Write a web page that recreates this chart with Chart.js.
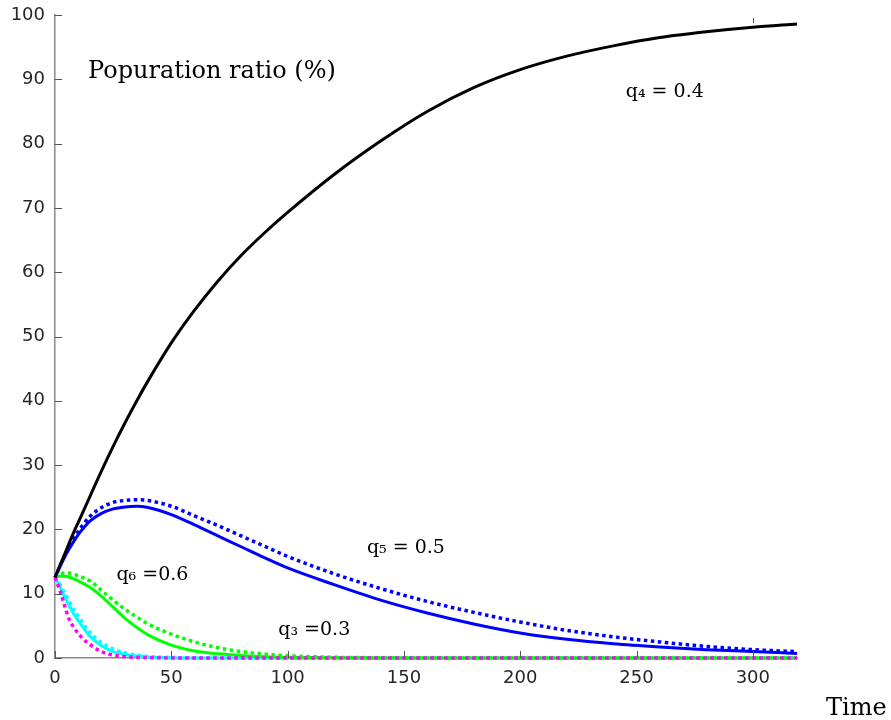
<!DOCTYPE html>
<html>
<head>
<meta charset="utf-8">
<script src="https://cdn.jsdelivr.net/npm/chart.js@4.4.1/dist/chart.umd.min.js"></script>
<style>
html, body { margin: 0; padding: 0; background: #fff; }
</style>
</head>
<body>
<canvas id="ratio" width="891" height="720"></canvas>
<script>
// time steps shared by all curves
var timeGrid = [0, 2, 4, 6, 8, 10, 12, 15, 20, 25, 30, 35, 40, 50, 60, 70, 80, 90, 100,
    120, 140, 160, 180, 200, 220, 240, 260, 280, 300, 319];

// population ratio (%)
var q4Solid = [12.5, 14.3, 16.0, 17.8, 19.5, 21.1, 22.7, 25.1, 29.1, 32.9, 36.5, 39.9, 43.1, 49.0, 54.1, 58.6, 62.6, 66.1, 69.3,
    75.2, 80.4, 85.0, 88.7, 91.5, 93.6, 95.2, 96.5, 97.4, 98.1, 98.6];
var q5Solid = [12.5, 14.1, 15.6, 16.9, 18.1, 19.2, 20.1, 21.3, 22.5, 23.2, 23.5, 23.6, 23.4, 22.3, 20.7, 19.0, 17.3, 15.6, 14.0,
    11.4, 9.0, 7.0, 5.3, 3.9, 2.9, 2.2, 1.7, 1.3, 1.0, 0.7];
var q5Dotted = [12.5, 14.2, 15.8, 17.2, 18.5, 19.7, 20.7, 22.0, 23.4, 24.2, 24.5, 24.6, 24.5, 23.6, 22.1, 20.6, 19.0, 17.4, 15.8,
    13.1, 10.8, 8.8, 7.1, 5.6, 4.3, 3.3, 2.5, 1.8, 1.3, 1.0];
var q6Solid = [12.5, 12.7, 12.7, 12.6, 12.3, 12.0, 11.6, 11.0, 9.6, 7.9, 6.2, 4.8, 3.6, 2.0, 1.1, 0.65, 0.4, 0.2, 0.1,
    0.03, 0, 0, 0, 0, 0, 0, 0, 0, 0, 0];
var q6Dotted = [12.5, 13.0, 13.2, 13.2, 13.0, 12.8, 12.5, 12.0, 10.5, 9.0, 7.6, 6.4, 5.3, 3.7, 2.5, 1.6, 1.0, 0.6, 0.35,
    0.12, 0.04, 0, 0, 0, 0, 0, 0, 0, 0, 0];
var q3Solid = [12.5, 11.2, 9.6, 8.2, 6.9, 5.8, 4.8, 3.4, 1.9, 1.0, 0.55, 0.3, 0.15, 0.05, 0, 0, 0, 0, 0,
    0, 0, 0, 0, 0, 0, 0, 0, 0, 0, 0];
var q3Dotted = [12.5, 11.5, 10.2, 8.9, 7.6, 6.5, 5.4, 4.0, 2.4, 1.4, 0.8, 0.45, 0.25, 0.08, 0.03, 0, 0, 0, 0,
    0, 0, 0, 0, 0, 0, 0, 0, 0, 0, 0];
var magentaDotted = [12.5, 10.6, 8.3, 6.1, 4.8, 3.8, 3.0, 2.1, 1.0, 0.45, 0.2, 0.1, 0.05, 0, 0, 0, 0, 0, 0,
    0, 0, 0, 0, 0, 0, 0, 0, 0, 0, 0];

var xTicks = [0, 50, 100, 150, 200, 250, 300];
var yTicks = [0, 10, 20, 30, 40, 50, 60, 70, 80, 90, 100];

// text notes: [text, time, ratio] (left edge / baseline)
var notes = [
    ['Popuration ratio (%)', 14.2, 90.2],
    ['q\u2084 = 0.4', 245.4, 87.2],
    ['q\u2085 = 0.5', 134.1, 16.3],
    ['q\u2086 =0.6', 26.4, 12.1],
    ['q\u2083 =0.3', 96.0, 3.6]
];

function toPoints(values) {
    var pts = [];
    for (let i = 0; i < timeGrid.length; i++) {
        pts.push({ x: timeGrid[i], y: values[i] });
    }
    return pts;
}

function line(values, color, dotted, width) {
    return {
        data: toPoints(values),
        borderColor: color,
        backgroundColor: color,
        borderWidth: width,
        borderDash: dotted ? [3.5, 3.5] : [],
        pointRadius: 0,
        fill: false,
        cubicInterpolationMode: 'monotone',
        clip: false
    };
}

// inward ticks, serif notes and the "Time" label
var decor = {
    id: 'decor',
    afterDraw: function (chart) {
        var ctx = chart.ctx;
        var xs = chart.scales.x, ys = chart.scales.y;
        var area = chart.chartArea;
        ctx.save();
        ctx.strokeStyle = '#555';
        ctx.lineWidth = 1;
        ctx.beginPath();
        xTicks.forEach(function (t) {
            var px = Math.round(xs.getPixelForValue(t)) + 0.5;
            ctx.moveTo(px, area.bottom);
            ctx.lineTo(px, area.bottom - 7);
        });
        yTicks.forEach(function (v) {
            var py = Math.round(ys.getPixelForValue(v)) + 0.5;
            ctx.moveTo(area.left, py);
            ctx.lineTo(area.left + 7, py);
        });
        // stray tick on the top edge at 300
        var p300 = Math.round(xs.getPixelForValue(300)) + 0.5;
        ctx.moveTo(p300, area.top + 3);
        ctx.lineTo(p300, area.top + 8);
        ctx.stroke();

        ctx.fillStyle = '#000';
        ctx.textBaseline = 'alphabetic';
        ctx.textAlign = 'left';
        notes.forEach(function (n, i) {
            ctx.font = (i === 0 ? '24px' : '19px') + ' "DejaVu Serif"';
            ctx.fillText(n[0], xs.getPixelForValue(n[1]), ys.getPixelForValue(n[2]));
        });
        ctx.font = '24px "DejaVu Serif"';
        ctx.fillText('Time', area.right + 29, area.bottom + 57);
        ctx.restore();
    }
};

var ctx = document.getElementById('ratio').getContext('2d');
var chart = new Chart(ctx, {
    type: 'line',
    data: {
        datasets: [
            line(q4Solid, '#000000', false, 3),
            line(magentaDotted, '#ff00ff', true, 3.5),
            line(q6Dotted, '#00ff00', true, 3.5),
            line(q6Solid, '#00ff00', false, 3),
            line(q3Dotted, '#00ffff', true, 3.5),
            line(q3Solid, '#00ffff', false, 3),
            line(q5Dotted, '#0000ff', true, 3.5),
            line(q5Solid, '#0000ff', false, 3)
        ]
    },
    options: {
        responsive: false,
        animation: false,
        layout: {
            padding: { top: 15, right: 94, left: 0, bottom: 0 }
        },
        scales: {
            x: {
                type: 'linear',
                min: 0,
                max: 319,
                afterFit: function (s) {
                    s.height = 62;
                    s.paddingLeft = 0;
                    s.paddingRight = 0;
                },
                afterBuildTicks: function (s) {
                    s.ticks = xTicks.map(function (v) { return { value: v }; });
                },
                grid: { display: false, drawTicks: false },
                border: { display: true, color: '#8a8a8a', width: 1.5 },
                ticks: {
                    padding: 10,
                    color: '#262626',
                    font: { family: 'DejaVu Sans', size: 18 },
                    maxRotation: 0
                }
            },
            y: {
                min: 0,
                max: 100,
                afterFit: function (s) {
                    s.width = 55;
                    s.paddingTop = 0;
                    s.paddingBottom = 0;
                },
                afterBuildTicks: function (s) {
                    s.ticks = yTicks.map(function (v) { return { value: v }; });
                },
                grid: { display: false, drawTicks: false },
                border: { display: true, color: '#8a8a8a', width: 1.5 },
                ticks: {
                    padding: 10,
                    color: '#262626',
                    font: { family: 'DejaVu Sans', size: 18 }
                }
            }
        },
        plugins: {
            legend: { display: false },
            tooltip: { enabled: false }
        }
    },
    plugins: [decor]
});
</script>
</body>
</html>
